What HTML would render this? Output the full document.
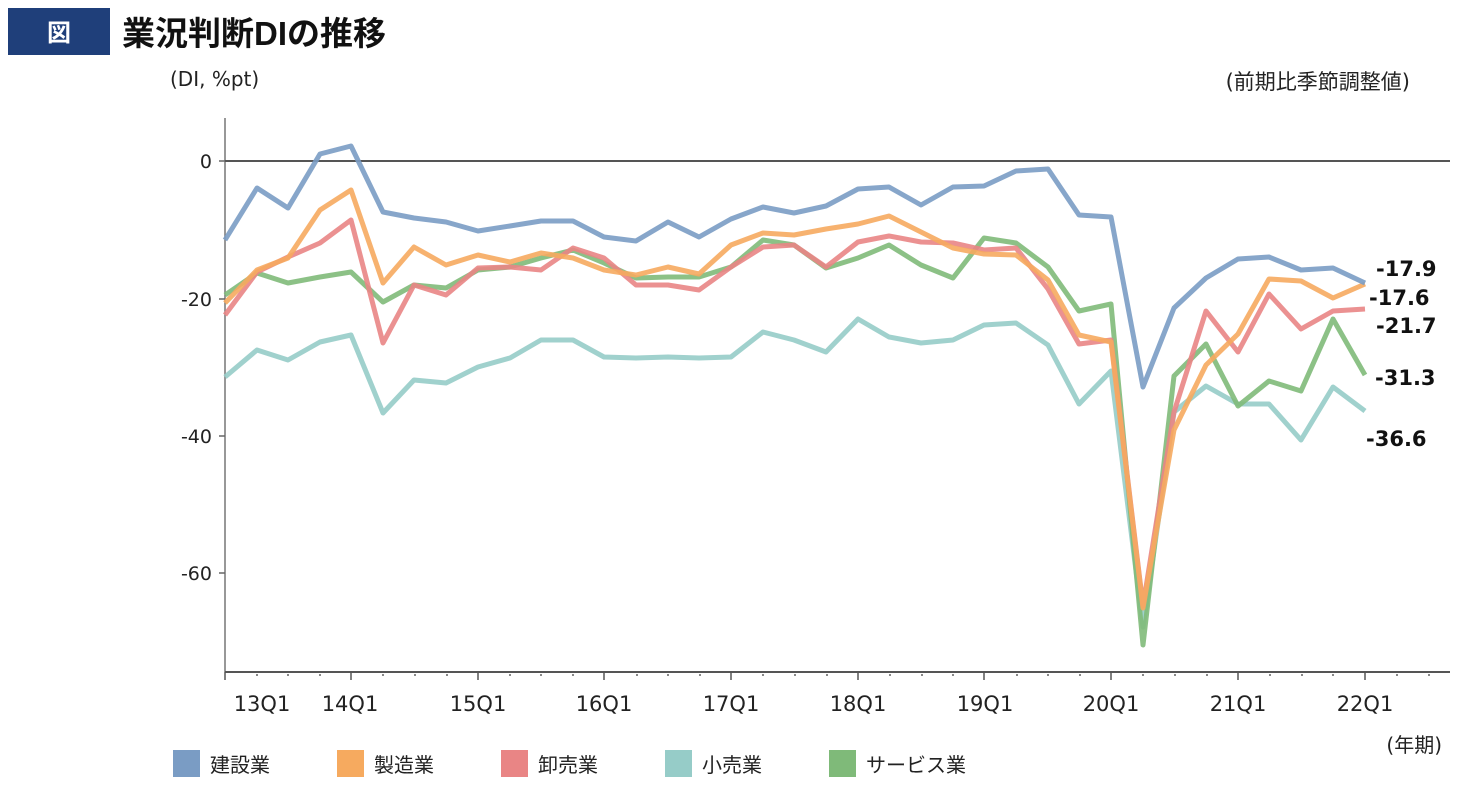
<!DOCTYPE html>
<html><head><meta charset="utf-8"><style>
body{margin:0;background:#fff;}
svg text{font-family:"DejaVu Sans","Noto Sans CJK JP",sans-serif;}
</style></head><body>
<svg width="1474" height="789" viewBox="0 0 1474 789" xmlns="http://www.w3.org/2000/svg">
<rect x="8" y="8" width="102" height="47" fill="#1f3f7a"/>
<text x="59" y="41" font-size="24" font-weight="bold" fill="#fff" text-anchor="middle" style="font-family:'Noto Sans CJK JP',sans-serif">図</text>
<text x="122" y="45" font-size="33" font-weight="bold" fill="#111" style="font-family:'Liberation Sans','Noto Sans CJK JP',sans-serif">業況判断DIの推移</text>
<text x="170" y="86" font-size="20" fill="#222">(DI, %pt)</text>
<text x="1410" y="89" font-size="21" fill="#222" text-anchor="end">(前期比季節調整値)</text>
<line x1="225" y1="118" x2="225" y2="672" stroke="#777" stroke-width="1.5"/>
<line x1="225" y1="672" x2="1450" y2="672" stroke="#555" stroke-width="2"/>
<line x1="225" y1="161" x2="1450" y2="161" stroke="#555" stroke-width="2"/>
<g stroke="#666" stroke-width="1.5">
<line x1="219" y1="161" x2="225" y2="161"/><line x1="219" y1="299" x2="225" y2="299"/>
<line x1="219" y1="436" x2="225" y2="436"/><line x1="219" y1="573" x2="225" y2="573"/>
</g>
<g font-size="19" fill="#222" text-anchor="end">
<text x="212" y="168">0</text><text x="212" y="306">-20</text><text x="212" y="443">-40</text><text x="212" y="580">-60</text>
</g>
<g font-size="21" fill="#222" text-anchor="middle">
<text x="262" y="711">13Q1</text><text x="350" y="711">14Q1</text><text x="478" y="711">15Q1</text><text x="604" y="711">16Q1</text><text x="731" y="711">17Q1</text><text x="858" y="711">18Q1</text><text x="985" y="711">19Q1</text><text x="1111" y="711">20Q1</text><text x="1238" y="711">21Q1</text><text x="1365" y="711">22Q1</text>
</g>
<text x="1442" y="752" font-size="20" fill="#222" text-anchor="end">(年期)</text>
<g fill="none" stroke-width="5" stroke-linejoin="round" stroke-opacity="0.9">
<polyline stroke="#96ccc8" points="225,377 257,350 288,360 320,342 351,335 383,413 414,380 446,383 478,367 510,358 541,340 573,340 604,357 636,358 668,357 699,358 731,357 763,332 794,340 826,352 858,319 889,337 921,343 953,340 984,325 1016,323 1048,345 1079,404 1111,371 1143,627 1174,412 1206,386 1238,404 1269,404 1301,440 1333,387 1365,411"/>
<polyline stroke="#7fba79" points="225,295 257,273 288,283 320,277 351,272 383,302 414,285 446,288 478,270 510,267 541,258 573,250 604,263 636,278 668,277 699,277 731,267 763,240 794,245 826,268 858,258 889,245 921,265 953,278 984,238 1016,243 1048,267 1079,311 1111,304 1143,645 1174,376 1206,344 1238,406 1269,381 1301,391 1333,319 1365,375"/>
<polyline stroke="#e98585" points="225,315 257,272 288,257 320,243 351,220 383,343 414,285 446,295 478,268 510,267 541,270 573,248 604,258 636,285 668,285 699,290 731,267 763,247 794,245 826,267 858,242 889,236 921,242 953,243 984,250 1016,248 1048,289 1079,344 1111,340 1143,606 1174,412 1206,311 1238,352 1269,294 1301,329 1333,311 1365,309"/>
<polyline stroke="#f6aa5f" points="225,303 257,270 288,258 320,210 351,190 383,283 414,247 446,265 478,255 510,262 541,253 573,258 604,270 636,275 668,267 699,274 731,245 763,233 794,235 826,229 858,224 889,216 921,232 953,248 984,254 1016,255 1048,280 1079,335 1111,342 1143,608 1174,430 1206,365 1238,334 1269,279 1301,281 1333,298 1365,284"/>
<polyline stroke="#7a9cc4" points="225,240 257,188 288,208 320,154 351,146 383,212 414,218 446,222 478,231 510,226 541,221 573,221 604,237 636,241 668,222 699,237 731,219 763,207 794,213 826,206 858,189 889,187 921,205 953,187 984,186 1016,171 1048,169 1079,215 1111,217 1143,387 1174,308 1206,278 1238,259 1269,257 1301,270 1333,268 1365,283"/>
</g>
<g font-size="21" font-weight="bold" fill="#111">
<text x="1376" y="276">-17.9</text><text x="1369" y="305">-17.6</text><text x="1376" y="333">-21.7</text><text x="1375" y="385">-31.3</text><text x="1366" y="446">-36.6</text>
</g>
<g font-size="20" fill="#222">
<rect x="173" y="750" width="27" height="27" fill="#7a9cc4"/><text x="210" y="772">建設業</text>
<rect x="337" y="750" width="27" height="27" fill="#f6aa5f"/><text x="374" y="772">製造業</text>
<rect x="501" y="750" width="27" height="27" fill="#e98585"/><text x="538" y="772">卸売業</text>
<rect x="665" y="750" width="27" height="27" fill="#96ccc8"/><text x="702" y="772">小売業</text>
<rect x="829" y="750" width="27" height="27" fill="#7fba79"/><text x="866" y="772">サービス業</text>
</g>
<g stroke="#555" stroke-width="1.5">
<line x1="225" y1="672" x2="225" y2="680"/><line x1="351" y1="672" x2="351" y2="680"/><line x1="478" y1="672" x2="478" y2="680"/><line x1="604" y1="672" x2="604" y2="680"/><line x1="731" y1="672" x2="731" y2="680"/><line x1="858" y1="672" x2="858" y2="680"/><line x1="984" y1="672" x2="984" y2="680"/><line x1="1111" y1="672" x2="1111" y2="680"/><line x1="1238" y1="672" x2="1238" y2="680"/><line x1="1365" y1="672" x2="1365" y2="680"/>
</g>
<g fill="#888">
<rect x="256" y="674" width="2" height="2"/><rect x="287" y="674" width="2" height="2"/><rect x="319" y="674" width="2" height="2"/><rect x="382" y="674" width="2" height="2"/><rect x="414" y="674" width="2" height="2"/><rect x="446" y="674" width="2" height="2"/><rect x="509" y="674" width="2" height="2"/><rect x="540" y="674" width="2" height="2"/><rect x="572" y="674" width="2" height="2"/><rect x="636" y="674" width="2" height="2"/><rect x="667" y="674" width="2" height="2"/><rect x="699" y="674" width="2" height="2"/><rect x="762" y="674" width="2" height="2"/><rect x="794" y="674" width="2" height="2"/><rect x="826" y="674" width="2" height="2"/><rect x="889" y="674" width="2" height="2"/><rect x="921" y="674" width="2" height="2"/><rect x="952" y="674" width="2" height="2"/><rect x="1016" y="674" width="2" height="2"/><rect x="1047" y="674" width="2" height="2"/><rect x="1079" y="674" width="2" height="2"/><rect x="1142" y="674" width="2" height="2"/><rect x="1174" y="674" width="2" height="2"/><rect x="1206" y="674" width="2" height="2"/><rect x="1269" y="674" width="2" height="2"/><rect x="1301" y="674" width="2" height="2"/><rect x="1332" y="674" width="2" height="2"/><rect x="1396" y="674" width="2" height="2"/><rect x="1428" y="674" width="2" height="2"/>
</g>
</svg>
</body></html>
